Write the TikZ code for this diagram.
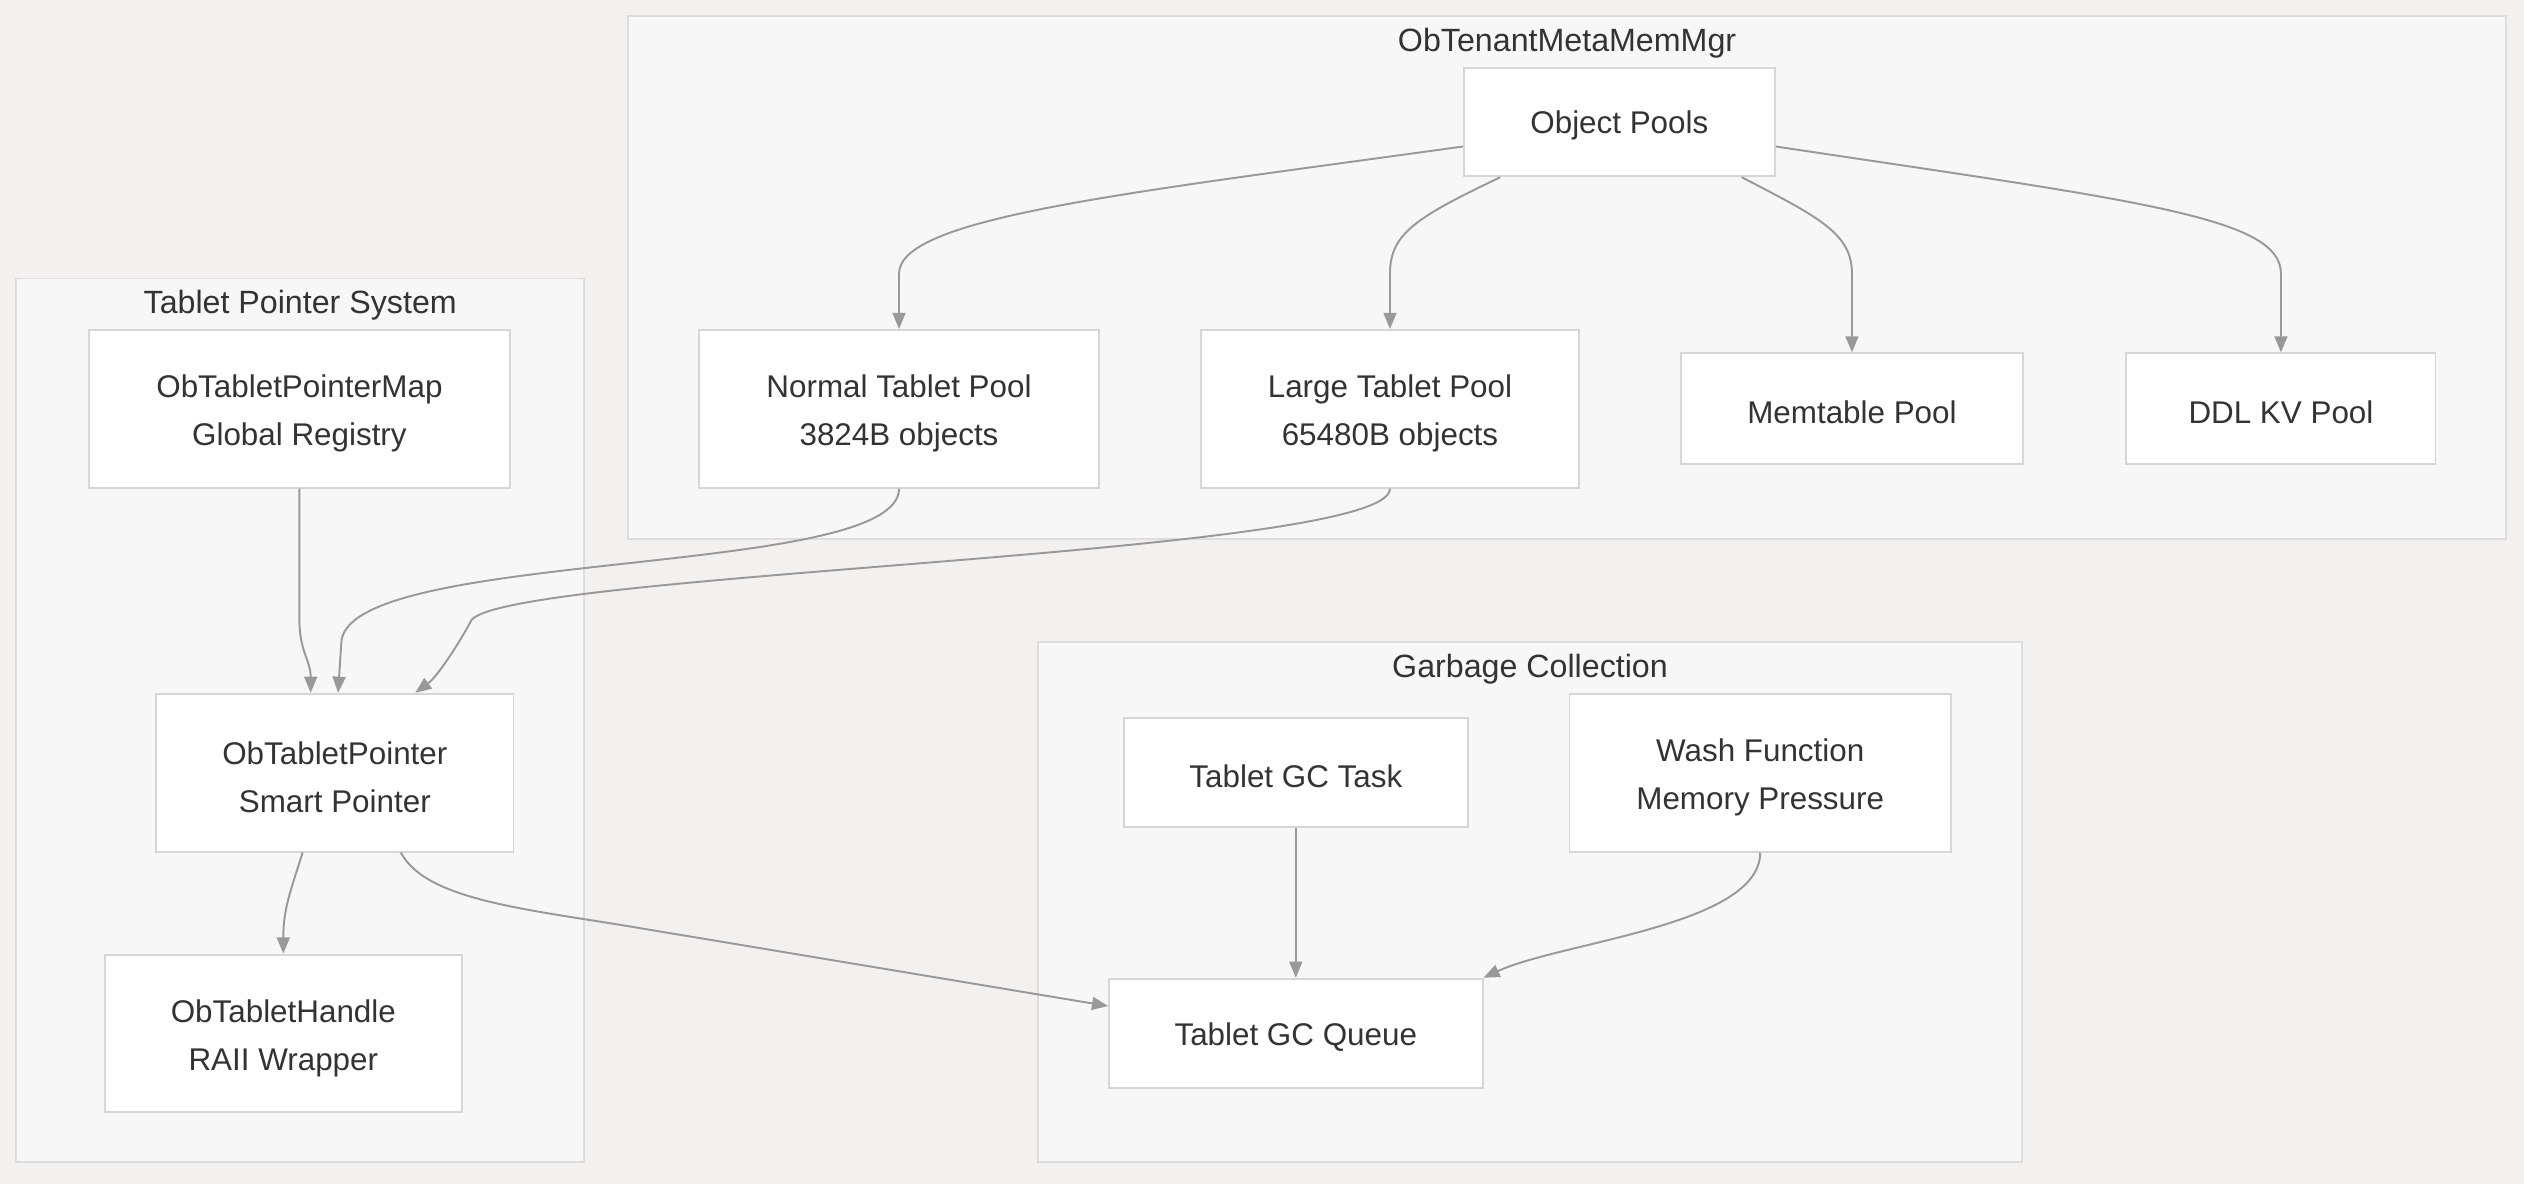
\documentclass[tikz,border=0pt]{standalone}
\usepackage{fontspec}
\setmainfont{Liberation Sans}
\usetikzlibrary{arrows.meta, positioning, calc, fit}
\definecolor{canvascolor}{RGB}{242, 241, 240}
\definecolor{groupfill}{RGB}{247, 247, 247}
\definecolor{groupdraw}{RGB}{221, 221, 221}
\definecolor{boxdraw}{RGB}{214, 214, 214}
\definecolor{labelcolor}{RGB}{51, 51, 51}
\definecolor{arrowcolor}{RGB}{153, 153, 153}
\tikzset{
    % Base styles
    basenode/.style={
        draw=boxdraw, fill=white, line width=1.2pt, align=center,
        text=labelcolor, font=\fontsize{19.5}{30}\selectfont,
        inner sep=0pt
    },
    % Specific node types
    twoline/.style={basenode, minimum height=98pt, text height=50pt},
    oneline/.style={basenode, minimum height=68pt, execute at begin node={\rule{0pt}{18.5pt}}},
    % Grouping box
    groupbox/.style={draw=groupdraw, fill=groupfill, line width=1.2pt, inner sep=0pt},
    grouptitle/.style={anchor=base, text=labelcolor, font=\fontsize{20}{24}\selectfont, yshift=-22.5pt},
    % Arrows
    myarrow/.style={-{Triangle[length=10pt, width=8pt]}, line width=1.2pt, arrowcolor},
}
\begin{document}
\begin{tikzpicture}[x=1pt, y=-1pt]

\fill[canvascolor] (0,0) rectangle (1568,735.5);
\useasboundingbox (0,0) rectangle (1568,735.5);

% Group boxes
\node (memmgr) [groupbox, fit={(390,10) (1557,335)}] {};
\node (ptrsystem) [groupbox, fit={(10,173) (363,722)}] {};
\node (gcgroup) [groupbox, fit={(645,399) (1256,722)}] {};
\node (memmgrtitle) [grouptitle] at (memmgr.north) {ObTenantMetaMemMgr};
\node (ptrsystemtitle) [grouptitle] at (ptrsystem.north) {Tablet Pointer System};
\node (gcgrouptitle) [grouptitle] at (gcgroup.north) {Garbage Collection};

% Object pools
\node (objpools) [oneline, minimum width=193pt, minimum height=67pt] at (1006,76) {Object Pools};
\node (normalpool) [twoline, minimum width=249pt] at (558.5,254) {Normal Tablet Pool\\3824B objects};
\node (largepool) [twoline, minimum width=235pt, right=61.8pt of normalpool] {Large Tablet Pool\\65480B objects};
\node (memtablepool) [oneline, minimum width=213pt, minimum height=69pt, right=61.8pt of largepool] {Memtable Pool};
\node (ddlkvpool) [oneline, minimum width=192pt, minimum height=69pt, right=62.8pt of memtablepool] {DDL KV Pool};

% Tablet pointers
\node (ptrmap) [twoline, minimum width=262pt] at (186,254) {ObTabletPointerMap\\Global Registry};
\node (tabletptr) [twoline, minimum width=222pt] at (208,480) {ObTabletPointer\\Smart Pointer};
\node (tablethandle) [twoline, minimum width=222pt] at (176,642) {ObTabletHandle\\RAII Wrapper};

% Garbage collection
\node (gctask) [oneline, minimum width=214pt] at (805,480) {Tablet GC Task};
\node (washfn) [twoline, minimum width=237pt] at (1093.5,480) {Wash Function\\Memory Pressure};
\node (gcqueue) [oneline, minimum width=232pt] at (805,642) {Tablet GC Queue};

% Arrows
\draw[myarrow] ([yshift=-15pt]objpools.west) .. controls (700,120) and (558.5,135) .. (558.5,170) -- (normalpool.north);
\draw[myarrow] ([xshift=-74pt]objpools.south) .. controls (880,135) and (863.5,145) .. (863.5,170) -- (largepool.north);
\draw[myarrow] ([xshift=76pt]objpools.south) .. controls (1130,135) and (memtablepool.north |- 0,145) .. (memtablepool.north |- 0,170) -- (memtablepool.north);
\draw[myarrow] ([yshift=-15pt]objpools.east) .. controls (1330,125) and (ddlkvpool.north |- 0,135) .. (ddlkvpool.north |- 0,170) -- (ddlkvpool.north);
\draw[myarrow] (ptrmap.south) -- (186,385) .. controls (186,405) and (193,410) .. ([xshift=-15pt]tabletptr.north);
\draw[myarrow] (normalpool.south) .. controls (558.5,360) and (212,340) .. (212,400) -- ([xshift=2pt]tabletptr.north);
\draw[myarrow] (largepool.south) .. controls (863.5,345) and (320,355) .. (293,385) .. controls (285,400) and (272,420) .. ([xshift=50pt]tabletptr.north);
\draw[myarrow] ([xshift=-20pt]tabletptr.south) .. controls (180,555) and (176,565) .. (tablethandle.north);
\draw[myarrow] ([xshift=41pt]tabletptr.south) .. controls (265,560) and (330,565) .. (400,577) -- ([yshift=17pt]gcqueue.west);
\draw[myarrow] (gctask) -- (gcqueue);
\draw[myarrow] (washfn.south) .. controls (1093.5,575) and (970,585) .. (gcqueue.north east);

\end{tikzpicture}
\end{document}
